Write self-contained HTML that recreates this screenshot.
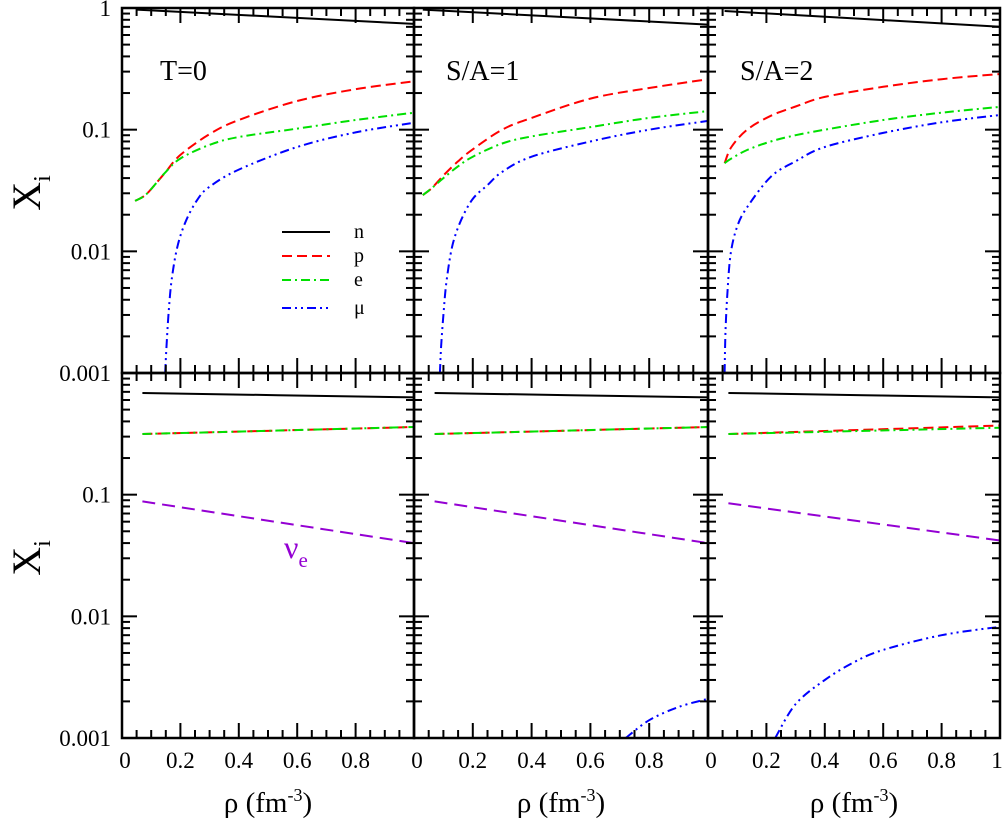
<!DOCTYPE html>
<html><head><meta charset="utf-8"><style>
html,body{margin:0;padding:0;background:#fff}
svg{display:block}
svg text{font-family:"Liberation Serif","Times New Roman",Times,"DejaVu Serif",serif !important}
</style></head><body>
<svg id="chart" width="1003" height="826" viewBox="0 0 1003 826"></svg>
<script>
const panelTitles=["T=0","S/A=1","S/A=2"];
const xTickLabels=["0","0.2","0.4","0.6","0.8"];
const yTickLabels=["1","0.1","0.01","0.001"];
// top row (neutrino-free), x in fm^-3, values X_i
const topN_x=[[0.05,1],[0.03,1],[0.057,1]];
const topN_y=[[0.97,0.74],[0.97,0.73],[0.945,0.70]];
const topP_x=[[0.045,0.08,0.12,0.15,0.2,0.3,0.4,0.6,0.8,1],[0.03,0.06,0.1,0.15,0.2,0.3,0.4,0.6,0.8,1],[0.057,0.08,0.134,0.215,0.3,0.4,0.6,0.8,1]];
const topP_y=[[0.026,0.029,0.037,0.045,0.062,0.092,0.12,0.172,0.215,0.25],[0.029,0.033,0.042,0.055,0.069,0.1,0.125,0.18,0.22,0.26],[0.053,0.072,0.1,0.13,0.155,0.186,0.225,0.26,0.287]];
const topE_x=[[0.045,0.08,0.12,0.15,0.2,0.3,0.4,0.6,0.8,1],[0.03,0.06,0.1,0.15,0.2,0.3,0.4,0.6,0.8,1],[0.057,0.08,0.134,0.215,0.3,0.4,0.6,0.8,1]];
const topE_y=[[0.026,0.029,0.037,0.045,0.058,0.075,0.087,0.102,0.12,0.138],[0.029,0.033,0.04,0.05,0.06,0.077,0.088,0.105,0.125,0.142],[0.053,0.058,0.068,0.08,0.09,0.1,0.12,0.138,0.154]];
const topM_x=[[0.148,0.152,0.16,0.17,0.19,0.22,0.26,0.3,0.4,0.6,0.8,1],[0.088,0.092,0.1,0.11,0.13,0.16,0.2,0.25,0.3,0.4,0.6,0.8,1],[0.057,0.06,0.067,0.078,0.1,0.134,0.215,0.3,0.4,0.6,0.8,1]];
const topM_y=[[0.001,0.0016,0.0032,0.0058,0.011,0.018,0.027,0.034,0.047,0.072,0.095,0.114],[0.001,0.0016,0.003,0.0055,0.011,0.018,0.027,0.035,0.045,0.06,0.08,0.1,0.118],[0.001,0.0022,0.0048,0.0097,0.016,0.023,0.041,0.055,0.072,0.094,0.115,0.132]];
// bottom row (neutrino-trapped)
const botN_x=[[0.07,1],[0.07,1],[0.07,1]];
const botN_y=[[0.685,0.63],[0.685,0.63],[0.685,0.63]];
const botP_x=[[0.07,1],[0.07,1],[0.07,1]];
const botP_y=[[0.315,0.36],[0.315,0.36],[0.315,0.37]];
const botE_y=[[0.315,0.36],[0.315,0.36],[0.315,0.355]];
const botNu_x=[[0.07,1],[0.07,1],[0.07,1]];
const botNu_y=[[0.088,0.04],[0.088,0.04],[0.085,0.042]];
const botM_x=[[],[0.72,0.8,0.9,1],[0.23,0.3,0.4,0.5,0.6,0.8,1]];
const botM_y=[[],[0.001,0.0014,0.0018,0.0021],[0.001,0.0019,0.003,0.0042,0.0053,0.007,0.0082]];

const svg=document.getElementById('chart');
const NS='http://www.w3.org/2000/svg';
const XB=[122,414,708,1000];
const ROWTOP=[8,373], DEC=121.67;
const FONT='"Liberation Serif","Times New Roman",Times,serif';
function sx(p,v){return XB[p]+v*(XB[p+1]-XB[p]);}
function sy(r,v){return ROWTOP[r]-Math.log10(v)*DEC;}
function mk(tag,attrs,parent){const e=document.createElementNS(NS,tag);for(const k in attrs)e.setAttribute(k,attrs[k]);if(tag==='text')e.style.fontFamily=FONT;(parent||svg).appendChild(e);return e;}
function smoothPath(P){
  let d='M'+P[0][0].toFixed(1)+','+P[0][1].toFixed(1);
  for(let i=0;i<P.length-1;i++){
    const p0=P[Math.max(i-1,0)],p1=P[i],p2=P[i+1],p3=P[Math.min(i+2,P.length-1)];
    const c1=[p1[0]+(p2[0]-p0[0])/6,p1[1]+(p2[1]-p0[1])/6];
    const c2=[p2[0]-(p3[0]-p1[0])/6,p2[1]-(p3[1]-p1[1])/6];
    d+=' C'+c1[0].toFixed(1)+','+c1[1].toFixed(1)+' '+c2[0].toFixed(1)+','+c2[1].toFixed(1)+' '+p2[0].toFixed(1)+','+p2[1].toFixed(1);
  }
  return d;
}
function series(p,r,xs,ys,color,dash,name){
  if(!xs.length)return;
  const P=xs.map((x,i)=>[sx(p,x),sy(r,ys[i])]);
  const e=mk('path',{d:smoothPath(P),fill:'none',stroke:color,'stroke-width':2,'stroke-dasharray':dash});
  
  
}
const DP='10,5',DE='9,4,2,4',DM='9,4,2,4,2,4',DNU='13,7';
for(let p=0;p<3;p++){
  series(p,0,topN_x[p],topN_y[p],'#000','none','neutron-line-top-'+p);
  series(p,0,topP_x[p],topP_y[p],'#ff0000',DP,'proton-line-top-'+p);
  series(p,0,topE_x[p],topE_y[p],'#00e000',DE,'electron-line-top-'+p);
  series(p,0,topM_x[p],topM_y[p],'#0000ff',DM,'muon-line-top-'+p);
  series(p,1,botN_x[p],botN_y[p],'#000','none','neutron-line-bottom-'+p);
  series(p,1,botP_x[p],botP_y[p],'#ff0000',DP,'proton-line-bottom-'+p);
  series(p,1,botP_x[p],botE_y[p],'#00e000',DE,'electron-line-bottom-'+p);
  series(p,1,botNu_x[p],botNu_y[p],'#9400d3',DNU,'neutrino-line-bottom-'+p);
  series(p,1,botM_x[p],botM_y[p],'#0000ff',DM,'muon-line-bottom-'+p);
}
for(let p=0;p<3;p++){
  const x0=XB[p],x1=XB[p+1],PW=x1-x0;
  for(let r=0;r<2;r++){
    const y0=ROWTOP[r],y1=ROWTOP[r]+3*DEC;
    const fr=mk('rect',{x:x0,y:y0,width:PW,height:y1-y0,fill:'none',stroke:'#000','stroke-width':2.5});
    
    
    for(let k=0;k<=20;k++){
      const len=(k%4===0)?15:8, x=x0+k*PW/20;
      mk('line',{x1:x,y1:y1,x2:x,y2:y1-len,stroke:'#000','stroke-width':2});
      mk('line',{x1:x,y1:y0,x2:x,y2:y0+len,stroke:'#000','stroke-width':2});
    }
    for(let d=0;d<3;d++){
      for(let m=1;m<=9;m++){
        const y=y1-d*DEC-Math.log10(m)*DEC, len=(m===1)?15:8;
        mk('line',{x1:x0,y1:y,x2:x0+len,y2:y,stroke:'#000','stroke-width':2});
        mk('line',{x1:x1,y1:y,x2:x1-len,y2:y,stroke:'#000','stroke-width':2});
      }
    }
  }
  const t=mk('text',{x:x0+(p===0?38:32),y:80,'font-size':28});
  t.textContent=panelTitles[p];
  
  
  xTickLabels.forEach((lab,i)=>{
    const e=mk('text',{x:sx(p,i*0.2)+(i===0?3:0),y:768,'font-size':23,'text-anchor':'middle'});
    e.textContent=lab;
    
    
  });
  const xt=mk('text',{x:x0+PW/2,y:812,'font-size':29,'text-anchor':'middle'});
  xt.innerHTML='ρ (fm<tspan dy="-11" font-size="18">-3</tspan><tspan dy="11">)</tspan>';
  
  
}
const lastX=mk('text',{x:997,y:768,'font-size':23,'text-anchor':'middle'});
lastX.textContent='1';


for(let r=0;r<2;r++){
  yTickLabels.forEach((lab,i)=>{
    if(r===1&&i===0)return;
    const e=mk('text',{x:111,y:ROWTOP[r]+i*DEC+8,'font-size':23,'text-anchor':'end'});
    e.textContent=lab;
    
    
  });
  const yt=mk('text',{x:0,y:0,'font-size':40,'text-anchor':'middle',transform:'translate(40,'+(ROWTOP[r]+185)+') rotate(-90)'});
  yt.innerHTML='X<tspan dy="10" font-size="24">i</tspan>';
  
  
}
const legNames=['n','p','e','μ'],legCols=['#000','#ff0000','#00e000','#0000ff'],legDash=['none',DP,DE,DM],legY=[232,256,280,308];
legNames.forEach((n,i)=>{
  const g=mk('g',{});
  
  
  mk('line',{x1:282,y1:legY[i],x2:330,y2:legY[i],stroke:legCols[i],'stroke-width':2,'stroke-dasharray':legDash[i]},g);
  const t=mk('text',{x:354,y:legY[i]+6,'font-size':20},g);
  t.textContent=n;
});
const nu=mk('text',{x:284,y:558,'font-size':32,fill:'#9400d3'});
nu.innerHTML='ν<tspan dy="9" font-size="21">e</tspan>';


</script>
</body></html>
